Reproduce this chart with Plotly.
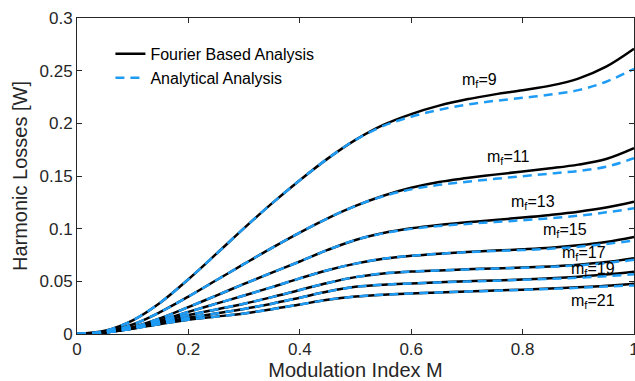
import plotly.graph_objects as go

M = [0, 0.05, 0.1, 0.15, 0.2, 0.25, 0.3, 0.35, 0.4, 0.45, 0.5, 0.55, 0.6, 0.65, 0.7, 0.75, 0.8, 0.85, 0.9, 0.95, 1.0]

mf_labels = [9, 11, 13, 15, 17, 19, 21]

fourier_mf9 = [0, 0.003, 0.013, 0.030, 0.052, 0.076, 0.1005, 0.124, 0.146, 0.1665, 0.1843, 0.1985, 0.2088, 0.2168, 0.2228, 0.2275, 0.2315, 0.2358, 0.2425, 0.2538, 0.2708]
fourier_mf11 = [0, 0.002, 0.009, 0.021, 0.0355, 0.051, 0.0665, 0.0818, 0.0963, 0.1098, 0.1216, 0.1313, 0.1388, 0.1443, 0.148, 0.1513, 0.1543, 0.1573, 0.1608, 0.1662, 0.1765]
fourier_mf13 = [0, 0.0015, 0.0065, 0.015, 0.0255, 0.0365, 0.0475, 0.0583, 0.0688, 0.0798, 0.0893, 0.0958, 0.1003, 0.1035, 0.106, 0.1083, 0.1105, 0.113, 0.116, 0.120, 0.1255]
fourier_mf15 = [0, 0.0015, 0.006, 0.013, 0.021, 0.0288, 0.0365, 0.0445, 0.0528, 0.0605, 0.0668, 0.0715, 0.0743, 0.0763, 0.0779, 0.0792, 0.0804, 0.0819, 0.0842, 0.0874, 0.0922]
fourier_mf17 = [0, 0.0015, 0.0058, 0.012, 0.018, 0.0233, 0.0288, 0.035, 0.0418, 0.0485, 0.054, 0.0575, 0.0593, 0.0604, 0.0614, 0.0623, 0.0631, 0.0642, 0.0658, 0.0683, 0.072]
fourier_mf19 = [0, 0.0015, 0.0053, 0.0105, 0.0155, 0.0195, 0.0238, 0.0288, 0.0345, 0.0403, 0.0448, 0.0468, 0.048, 0.0491, 0.050, 0.0509, 0.0518, 0.0529, 0.0544, 0.0564, 0.0591]
fourier_mf21 = [0, 0.0015, 0.005, 0.0095, 0.0135, 0.0165, 0.0195, 0.0235, 0.028, 0.0325, 0.0355, 0.0373, 0.0385, 0.0395, 0.0404, 0.0412, 0.0421, 0.0431, 0.0443, 0.0458, 0.0478]

analytic_mf9 = [0, 0.003, 0.013, 0.030, 0.052, 0.076, 0.1005, 0.124, 0.146, 0.1665, 0.1843, 0.1975, 0.2063, 0.2128, 0.2178, 0.2213, 0.2242, 0.2273, 0.2315, 0.2395, 0.2518]
analytic_mf11 = [0, 0.002, 0.009, 0.021, 0.0355, 0.051, 0.0665, 0.0818, 0.0963, 0.1098, 0.1216, 0.1308, 0.1373, 0.1416, 0.1445, 0.1473, 0.1498, 0.1523, 0.1548, 0.1588, 0.1668]
analytic_mf13 = [0, 0.0015, 0.0065, 0.015, 0.0255, 0.0365, 0.0475, 0.0583, 0.0688, 0.0798, 0.0893, 0.0956, 0.0998, 0.1025, 0.1045, 0.1063, 0.108, 0.110, 0.1123, 0.1155, 0.1193]
analytic_mf15 = [0, 0.0015, 0.006, 0.013, 0.021, 0.0288, 0.0365, 0.0445, 0.0528, 0.0605, 0.0668, 0.0715, 0.0742, 0.0761, 0.0776, 0.0788, 0.0797, 0.081, 0.0828, 0.0855, 0.0887]
analytic_mf17 = [0, 0.0015, 0.0058, 0.012, 0.018, 0.0233, 0.0288, 0.035, 0.0418, 0.0485, 0.054, 0.0575, 0.0593, 0.0604, 0.0613, 0.0621, 0.0628, 0.0638, 0.0652, 0.0674, 0.0704]
analytic_mf19 = [0, 0.0015, 0.0053, 0.0105, 0.0155, 0.0195, 0.0238, 0.0288, 0.0345, 0.0403, 0.0448, 0.0468, 0.048, 0.049, 0.0498, 0.0506, 0.0514, 0.0523, 0.0535, 0.0549, 0.0567]
analytic_mf21 = [0, 0.0015, 0.005, 0.0095, 0.0135, 0.0165, 0.0195, 0.0235, 0.028, 0.0325, 0.0355, 0.0373, 0.0385, 0.0395, 0.0403, 0.0411, 0.0419, 0.0428, 0.0439, 0.0451, 0.0461]

fourier = [fourier_mf9, fourier_mf11, fourier_mf13, fourier_mf15, fourier_mf17, fourier_mf19, fourier_mf21]
analytic = [analytic_mf9, analytic_mf11, analytic_mf13, analytic_mf15, analytic_mf17, analytic_mf19, analytic_mf21]

label_x = [0.722, 0.774, 0.818, 0.877, 0.910, 0.926, 0.927]
label_y = [0.241, 0.168, 0.1244, 0.0978, 0.0769, 0.0608, 0.0304]

x_ticks = [0, 0.2, 0.4, 0.6, 0.8, 1]
x_ticktext = ["0", "0.2", "0.4", "0.6", "0.8", "1"]
y_ticks = [0, 0.05, 0.1, 0.15, 0.2, 0.25, 0.3]
y_ticktext = ["0", "0.05", "0.1", "0.15", "0.2", "0.25", "0.3"]

BLACK = "#000000"
BLUE = "#1e9cf5"
FONT = "Liberation Sans, Arial, sans-serif"
TXT = "#262626"

fig = go.Figure()
for i, ys in enumerate(fourier):
    fig.add_trace(go.Scatter(
        x=M, y=ys, mode="lines", line=dict(color=BLACK, width=2.5, shape="spline", smoothing=1.0),
        name="Fourier Based Analysis", showlegend=(i == 0)))
for i, ys in enumerate(analytic):
    fig.add_trace(go.Scatter(
        x=M, y=ys, mode="lines", line=dict(color=BLUE, width=2.5, dash="9px,6px", shape="spline", smoothing=1.0),
        name="Analytical Analysis", showlegend=(i == 0)))

for lx, ly, mf in zip(label_x, label_y, mf_labels):
    fig.add_annotation(x=lx, y=ly, text=f"m<sub>f</sub>={mf}", showarrow=False,
                       font=dict(family=FONT, size=16, color=BLACK), xanchor="center", yanchor="middle")

axis_common = dict(showgrid=False, zeroline=False, showline=True, linecolor=TXT, linewidth=1,
                   mirror="ticks", ticks="inside", ticklen=5, tickcolor=TXT, tickwidth=1,
                   tickfont=dict(family=FONT, size=17, color=TXT))

fig.update_xaxes(range=[0, 1], tickvals=x_ticks, ticktext=x_ticktext, ticklabeloverflow="allow",
                 title=dict(text="Modulation Index M", font=dict(family=FONT, size=20, color=TXT), standoff=6),
                 **axis_common)
fig.update_yaxes(range=[0, 0.3], tickvals=y_ticks, ticktext=y_ticktext,
                 title=dict(text="Harmonic Losses [W]", font=dict(family=FONT, size=20, color=TXT), standoff=6),
                 **axis_common)

fig.update_layout(
    width=635, height=381,
    margin=dict(l=77, r=1, t=18, b=47, autoexpand=False),
    plot_bgcolor="white", paper_bgcolor="white",
    legend=dict(x=0.06, y=0.94, xanchor="left", yanchor="top", bgcolor="rgba(255,255,255,0)",
                font=dict(family=FONT, size=16, color=BLACK), tracegroupgap=0),
)

fig.write_html("out.html")
